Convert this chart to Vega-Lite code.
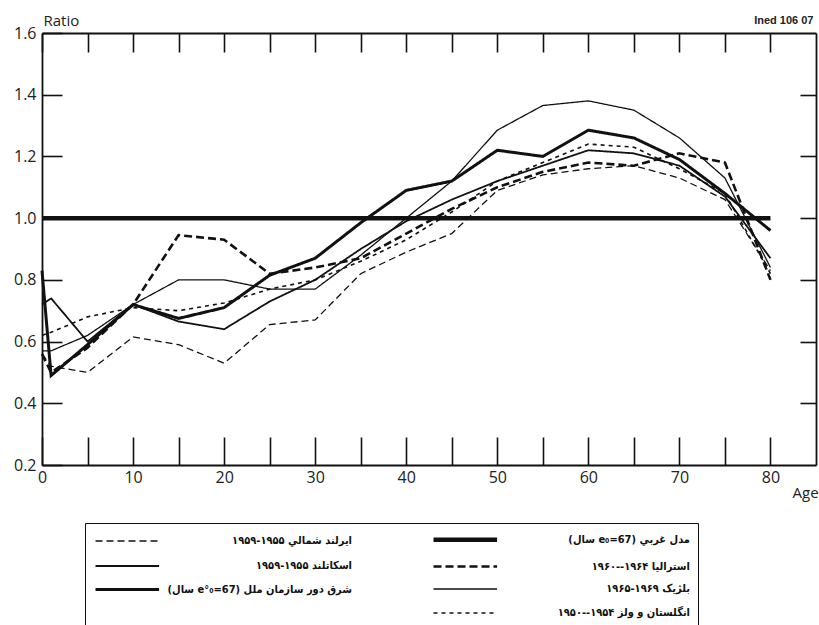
{
  "$schema": "https://vega.github.io/schema/vega-lite/v6.json",
  "width": 774,
  "height": 432,
  "autosize": {"type": "none"},
  "padding": {"left": 42, "top": 33, "right": 3, "bottom": 160},
  "background": "white",
  "config": {
    "view": {"stroke": null},
    "axis": {
      "grid": false,
      "domainColor": "#111",
      "domainWidth": 1.8,
      "tickColor": "#111",
      "tickWidth": 1.6,
      "labelFont": "Open Sans",
      "labelFontSize": 16,
      "labelColor": "#222",
      "labelFlush": false,
      "labelOverlap": false,
      "titleFont": "Open Sans",
      "titleFontWeight": "normal",
      "titleColor": "#222"
    }
  },
  "data": {
    "values": [
      {"series": "مدل غربي (e₀=67 سال)", "age": 0, "ratio": 1.0},
      {"series": "مدل غربي (e₀=67 سال)", "age": 80, "ratio": 1.0},

      {"series": "شرق دور سازمان ملل (e°₀=67 سال)", "age": 0, "ratio": 0.83},
      {"series": "شرق دور سازمان ملل (e°₀=67 سال)", "age": 1, "ratio": 0.49},
      {"series": "شرق دور سازمان ملل (e°₀=67 سال)", "age": 5, "ratio": 0.59},
      {"series": "شرق دور سازمان ملل (e°₀=67 سال)", "age": 10, "ratio": 0.72},
      {"series": "شرق دور سازمان ملل (e°₀=67 سال)", "age": 15, "ratio": 0.675},
      {"series": "شرق دور سازمان ملل (e°₀=67 سال)", "age": 20, "ratio": 0.71},
      {"series": "شرق دور سازمان ملل (e°₀=67 سال)", "age": 25, "ratio": 0.815},
      {"series": "شرق دور سازمان ملل (e°₀=67 سال)", "age": 30, "ratio": 0.87},
      {"series": "شرق دور سازمان ملل (e°₀=67 سال)", "age": 35, "ratio": 0.985},
      {"series": "شرق دور سازمان ملل (e°₀=67 سال)", "age": 40, "ratio": 1.09},
      {"series": "شرق دور سازمان ملل (e°₀=67 سال)", "age": 45, "ratio": 1.12},
      {"series": "شرق دور سازمان ملل (e°₀=67 سال)", "age": 50, "ratio": 1.22},
      {"series": "شرق دور سازمان ملل (e°₀=67 سال)", "age": 55, "ratio": 1.2},
      {"series": "شرق دور سازمان ملل (e°₀=67 سال)", "age": 60, "ratio": 1.285},
      {"series": "شرق دور سازمان ملل (e°₀=67 سال)", "age": 65, "ratio": 1.26},
      {"series": "شرق دور سازمان ملل (e°₀=67 سال)", "age": 70, "ratio": 1.19},
      {"series": "شرق دور سازمان ملل (e°₀=67 سال)", "age": 75, "ratio": 1.08},
      {"series": "شرق دور سازمان ملل (e°₀=67 سال)", "age": 80, "ratio": 0.96},

      {"series": "بلژیک ۱۹۶۹-۱۹۶۵", "age": 0, "ratio": 0.57},
      {"series": "بلژیک ۱۹۶۹-۱۹۶۵", "age": 1, "ratio": 0.57},
      {"series": "بلژیک ۱۹۶۹-۱۹۶۵", "age": 5, "ratio": 0.62},
      {"series": "بلژیک ۱۹۶۹-۱۹۶۵", "age": 10, "ratio": 0.72},
      {"series": "بلژیک ۱۹۶۹-۱۹۶۵", "age": 15, "ratio": 0.8},
      {"series": "بلژیک ۱۹۶۹-۱۹۶۵", "age": 20, "ratio": 0.8},
      {"series": "بلژیک ۱۹۶۹-۱۹۶۵", "age": 25, "ratio": 0.77},
      {"series": "بلژیک ۱۹۶۹-۱۹۶۵", "age": 30, "ratio": 0.77},
      {"series": "بلژیک ۱۹۶۹-۱۹۶۵", "age": 35, "ratio": 0.88},
      {"series": "بلژیک ۱۹۶۹-۱۹۶۵", "age": 40, "ratio": 1.0},
      {"series": "بلژیک ۱۹۶۹-۱۹۶۵", "age": 45, "ratio": 1.12},
      {"series": "بلژیک ۱۹۶۹-۱۹۶۵", "age": 50, "ratio": 1.285},
      {"series": "بلژیک ۱۹۶۹-۱۹۶۵", "age": 55, "ratio": 1.365},
      {"series": "بلژیک ۱۹۶۹-۱۹۶۵", "age": 60, "ratio": 1.38},
      {"series": "بلژیک ۱۹۶۹-۱۹۶۵", "age": 65, "ratio": 1.35},
      {"series": "بلژیک ۱۹۶۹-۱۹۶۵", "age": 70, "ratio": 1.26},
      {"series": "بلژیک ۱۹۶۹-۱۹۶۵", "age": 75, "ratio": 1.13},
      {"series": "بلژیک ۱۹۶۹-۱۹۶۵", "age": 80, "ratio": 0.84},

      {"series": "اسکاتلند ۱۹۵۵-۱۹۵۹", "age": 0, "ratio": 0.72},
      {"series": "اسکاتلند ۱۹۵۵-۱۹۵۹", "age": 1, "ratio": 0.74},
      {"series": "اسکاتلند ۱۹۵۵-۱۹۵۹", "age": 5, "ratio": 0.6},
      {"series": "اسکاتلند ۱۹۵۵-۱۹۵۹", "age": 10, "ratio": 0.72},
      {"series": "اسکاتلند ۱۹۵۵-۱۹۵۹", "age": 15, "ratio": 0.665},
      {"series": "اسکاتلند ۱۹۵۵-۱۹۵۹", "age": 20, "ratio": 0.64},
      {"series": "اسکاتلند ۱۹۵۵-۱۹۵۹", "age": 25, "ratio": 0.73},
      {"series": "اسکاتلند ۱۹۵۵-۱۹۵۹", "age": 30, "ratio": 0.8},
      {"series": "اسکاتلند ۱۹۵۵-۱۹۵۹", "age": 35, "ratio": 0.9},
      {"series": "اسکاتلند ۱۹۵۵-۱۹۵۹", "age": 40, "ratio": 0.99},
      {"series": "اسکاتلند ۱۹۵۵-۱۹۵۹", "age": 45, "ratio": 1.06},
      {"series": "اسکاتلند ۱۹۵۵-۱۹۵۹", "age": 50, "ratio": 1.12},
      {"series": "اسکاتلند ۱۹۵۵-۱۹۵۹", "age": 55, "ratio": 1.17},
      {"series": "اسکاتلند ۱۹۵۵-۱۹۵۹", "age": 60, "ratio": 1.22},
      {"series": "اسکاتلند ۱۹۵۵-۱۹۵۹", "age": 65, "ratio": 1.21},
      {"series": "اسکاتلند ۱۹۵۵-۱۹۵۹", "age": 70, "ratio": 1.17},
      {"series": "اسکاتلند ۱۹۵۵-۱۹۵۹", "age": 75, "ratio": 1.07},
      {"series": "اسکاتلند ۱۹۵۵-۱۹۵۹", "age": 80, "ratio": 0.87},

      {"series": "انگلستان و ولز ۱۹۵۴--۱۹۵۰", "age": 0, "ratio": 0.62},
      {"series": "انگلستان و ولز ۱۹۵۴--۱۹۵۰", "age": 1, "ratio": 0.63},
      {"series": "انگلستان و ولز ۱۹۵۴--۱۹۵۰", "age": 5, "ratio": 0.68},
      {"series": "انگلستان و ولز ۱۹۵۴--۱۹۵۰", "age": 10, "ratio": 0.71},
      {"series": "انگلستان و ولز ۱۹۵۴--۱۹۵۰", "age": 15, "ratio": 0.7},
      {"series": "انگلستان و ولز ۱۹۵۴--۱۹۵۰", "age": 20, "ratio": 0.725},
      {"series": "انگلستان و ولز ۱۹۵۴--۱۹۵۰", "age": 25, "ratio": 0.77},
      {"series": "انگلستان و ولز ۱۹۵۴--۱۹۵۰", "age": 30, "ratio": 0.8},
      {"series": "انگلستان و ولز ۱۹۵۴--۱۹۵۰", "age": 35, "ratio": 0.86},
      {"series": "انگلستان و ولز ۱۹۵۴--۱۹۵۰", "age": 40, "ratio": 0.93},
      {"series": "انگلستان و ولز ۱۹۵۴--۱۹۵۰", "age": 45, "ratio": 1.02},
      {"series": "انگلستان و ولز ۱۹۵۴--۱۹۵۰", "age": 50, "ratio": 1.12},
      {"series": "انگلستان و ولز ۱۹۵۴--۱۹۵۰", "age": 55, "ratio": 1.18},
      {"series": "انگلستان و ولز ۱۹۵۴--۱۹۵۰", "age": 60, "ratio": 1.24},
      {"series": "انگلستان و ولز ۱۹۵۴--۱۹۵۰", "age": 65, "ratio": 1.23},
      {"series": "انگلستان و ولز ۱۹۵۴--۱۹۵۰", "age": 70, "ratio": 1.16},
      {"series": "انگلستان و ولز ۱۹۵۴--۱۹۵۰", "age": 75, "ratio": 1.08},
      {"series": "انگلستان و ولز ۱۹۵۴--۱۹۵۰", "age": 80, "ratio": 0.82},

      {"series": "ایرلند شمالي ۱۹۵۵-۱۹۵۹", "age": 0, "ratio": 0.56},
      {"series": "ایرلند شمالي ۱۹۵۵-۱۹۵۹", "age": 1, "ratio": 0.52},
      {"series": "ایرلند شمالي ۱۹۵۵-۱۹۵۹", "age": 5, "ratio": 0.5},
      {"series": "ایرلند شمالي ۱۹۵۵-۱۹۵۹", "age": 10, "ratio": 0.615},
      {"series": "ایرلند شمالي ۱۹۵۵-۱۹۵۹", "age": 15, "ratio": 0.59},
      {"series": "ایرلند شمالي ۱۹۵۵-۱۹۵۹", "age": 20, "ratio": 0.53},
      {"series": "ایرلند شمالي ۱۹۵۵-۱۹۵۹", "age": 25, "ratio": 0.655},
      {"series": "ایرلند شمالي ۱۹۵۵-۱۹۵۹", "age": 30, "ratio": 0.67},
      {"series": "ایرلند شمالي ۱۹۵۵-۱۹۵۹", "age": 35, "ratio": 0.82},
      {"series": "ایرلند شمالي ۱۹۵۵-۱۹۵۹", "age": 40, "ratio": 0.89},
      {"series": "ایرلند شمالي ۱۹۵۵-۱۹۵۹", "age": 45, "ratio": 0.95},
      {"series": "ایرلند شمالي ۱۹۵۵-۱۹۵۹", "age": 50, "ratio": 1.09},
      {"series": "ایرلند شمالي ۱۹۵۵-۱۹۵۹", "age": 55, "ratio": 1.14},
      {"series": "ایرلند شمالي ۱۹۵۵-۱۹۵۹", "age": 60, "ratio": 1.16},
      {"series": "ایرلند شمالي ۱۹۵۵-۱۹۵۹", "age": 65, "ratio": 1.17},
      {"series": "ایرلند شمالي ۱۹۵۵-۱۹۵۹", "age": 70, "ratio": 1.13},
      {"series": "ایرلند شمالي ۱۹۵۵-۱۹۵۹", "age": 75, "ratio": 1.06},
      {"series": "ایرلند شمالي ۱۹۵۵-۱۹۵۹", "age": 80, "ratio": 0.83},

      {"series": "استرالیا ۱۹۶۴--۱۹۶۰", "age": 0, "ratio": 0.56},
      {"series": "استرالیا ۱۹۶۴--۱۹۶۰", "age": 1, "ratio": 0.5},
      {"series": "استرالیا ۱۹۶۴--۱۹۶۰", "age": 5, "ratio": 0.58},
      {"series": "استرالیا ۱۹۶۴--۱۹۶۰", "age": 10, "ratio": 0.72},
      {"series": "استرالیا ۱۹۶۴--۱۹۶۰", "age": 15, "ratio": 0.945},
      {"series": "استرالیا ۱۹۶۴--۱۹۶۰", "age": 20, "ratio": 0.93},
      {"series": "استرالیا ۱۹۶۴--۱۹۶۰", "age": 25, "ratio": 0.82},
      {"series": "استرالیا ۱۹۶۴--۱۹۶۰", "age": 30, "ratio": 0.84},
      {"series": "استرالیا ۱۹۶۴--۱۹۶۰", "age": 35, "ratio": 0.87},
      {"series": "استرالیا ۱۹۶۴--۱۹۶۰", "age": 40, "ratio": 0.95},
      {"series": "استرالیا ۱۹۶۴--۱۹۶۰", "age": 45, "ratio": 1.03},
      {"series": "استرالیا ۱۹۶۴--۱۹۶۰", "age": 50, "ratio": 1.1},
      {"series": "استرالیا ۱۹۶۴--۱۹۶۰", "age": 55, "ratio": 1.15},
      {"series": "استرالیا ۱۹۶۴--۱۹۶۰", "age": 60, "ratio": 1.18},
      {"series": "استرالیا ۱۹۶۴--۱۹۶۰", "age": 65, "ratio": 1.17},
      {"series": "استرالیا ۱۹۶۴--۱۹۶۰", "age": 70, "ratio": 1.21},
      {"series": "استرالیا ۱۹۶۴--۱۹۶۰", "age": 75, "ratio": 1.18},
      {"series": "استرالیا ۱۹۶۴--۱۹۶۰", "age": 80, "ratio": 0.8}
    ]
  },
  "layer": [
    {
      "transform": [{"filter": {"not": {"field": "series", "equal": "مدل غربي (e₀=67 سال)"}}}],
      "mark": {"type": "line", "color": "#111"},
      "encoding": {
        "x": {
          "field": "age", "type": "quantitative",
          "scale": {"domain": [0, 85], "nice": false, "zero": false},
          "axis": {
            "orient": "bottom",
            "values": [0, 5, 10, 15, 20, 25, 30, 35, 40, 45, 50, 55, 60, 65, 70, 75, 80],
            "tickSize": -28,
            "labelPadding": 32,
            "labelExpr": "datum.value % 10 === 0 ? datum.label : ''",
            "title": "Age",
            "titleX": 750, "titleY": 27,
            "titleAlign": "left", "titleBaseline": "middle",
            "titleFontSize": 15
          }
        },
        "y": {
          "field": "ratio", "type": "quantitative",
          "scale": {"domain": [0.2, 1.6], "nice": false, "zero": false},
          "axis": {
            "orient": "left",
            "values": [0.2, 0.4, 0.6, 0.8, 1.0, 1.2, 1.4, 1.6],
            "format": ".1f",
            "tickSize": -20,
            "labelPadding": 26,
            "title": "Ratio",
            "titleAngle": 0,
            "titleX": 1, "titleY": -13,
            "titleAlign": "left", "titleBaseline": "middle",
            "titleFontSize": 15
          }
        },
        "strokeDash": {
          "field": "series", "type": "nominal",
          "scale": {
            "domain": ["ایرلند شمالي ۱۹۵۵-۱۹۵۹", "اسکاتلند ۱۹۵۵-۱۹۵۹", "شرق دور سازمان ملل (e°₀=67 سال)", " ", "مدل غربي (e₀=67 سال)", "استرالیا ۱۹۶۴--۱۹۶۰", "بلژیک ۱۹۶۹-۱۹۶۵", "انگلستان و ولز ۱۹۵۴--۱۹۵۰"],
            "range": [[7, 4], [1, 0], [1, 0], [1, 0], [1, 0], [8, 4], [1, 0], [4, 4]]
          },
          "legend": {
            "orient": "none",
            "legendX": 43,
            "legendY": 490,
            "title": null,
            "columns": 2,
            "columnPadding": 72,
            "rowPadding": 10,
            "padding": 8,
            "strokeColor": "#111",
            "symbolType": "M-1,0H9.6",
            "symbolSize": 144,
            "symbolStrokeColor": "#111",
            "labelFont": "DejaVu Sans Condensed, DejaVu Sans",
            "labelFontSize": 11,
            "labelFontWeight": "bold",
            "labelColor": "#111",
            "labelAlign": "right",
            "labelOffset": 242,
            "labelLimit": 300,
            "labelExpr": "datum.value === ' ' ? '' : '‫' + datum.label + '‬'",
            "encoding": {
              "labels": {"update": {"x": {"signal": "datum.index >= 4 ? 219 : 284"}}}
            }
          }
        },
        "strokeWidth": {
          "field": "series", "type": "nominal",
          "scale": {
            "type": "ordinal",
            "domain": ["ایرلند شمالي ۱۹۵۵-۱۹۵۹", "اسکاتلند ۱۹۵۵-۱۹۵۹", "شرق دور سازمان ملل (e°₀=67 سال)", " ", "مدل غربي (e₀=67 سال)", "استرالیا ۱۹۶۴--۱۹۶۰", "بلژیک ۱۹۶۹-۱۹۶۵", "انگلستان و ولز ۱۹۵۴--۱۹۵۰"],
            "range": [1.3, 1.8, 3, 0, 4.5, 2.6, 1.3, 1.6]
          }
        }
      }
    },
    {
      "transform": [{"filter": {"field": "series", "equal": "مدل غربي (e₀=67 سال)"}}],
      "mark": {"type": "line", "color": "#111", "strokeWidth": 4.5},
      "encoding": {
        "x": {
          "field": "age", "type": "quantitative",
          "axis": {
            "orient": "top",
            "values": [0, 5, 10, 15, 20, 25, 30, 35, 40, 45, 50, 55, 60, 65, 70, 75, 80],
            "tickSize": -19,
            "labels": false,
            "title": "Ined 106 07",
            "titleX": 771, "titleY": -13,
            "titleAlign": "right", "titleBaseline": "middle",
            "titleFont": "Liberation Sans",
            "titleFontSize": 11,
            "titleFontWeight": "bold"
          }
        },
        "y": {
          "field": "ratio", "type": "quantitative",
          "axis": {
            "orient": "right",
            "values": [0.4, 0.6, 0.8, 1.0, 1.2, 1.4],
            "tickSize": -16,
            "labels": false,
            "title": null
          }
        }
      }
    }
  ],
  "resolve": {"axis": {"x": "independent", "y": "independent"}}
}
